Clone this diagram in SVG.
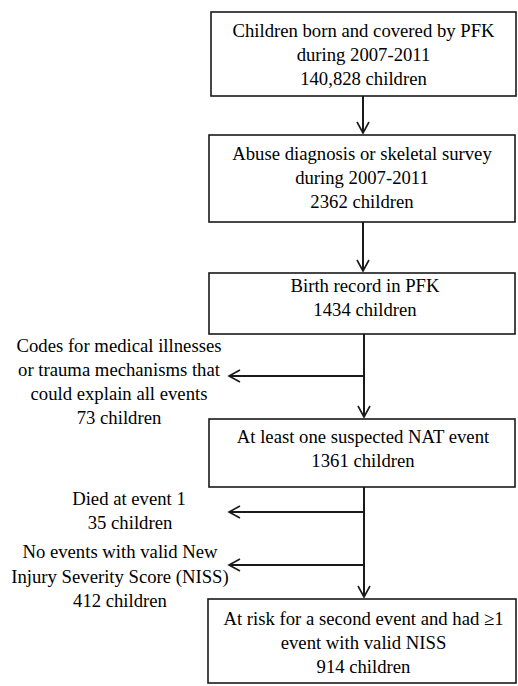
<svg xmlns="http://www.w3.org/2000/svg" width="518" height="686" viewBox="0 0 518 686">
<style>
.box{fill:#fff;stroke:#1a1a1a;stroke-width:1.6}
.ln{fill:none;stroke:#1a1a1a;stroke-width:2}
</style>
<defs>
<marker id="ah" markerUnits="userSpaceOnUse" markerWidth="14" markerHeight="16" viewBox="0 0 14 16" refX="12" refY="7" orient="auto">
<path d="M1,1 L12,7 L1,13" fill="none" stroke="#1a1a1a" stroke-width="1.6"/>
</marker>
</defs>
<rect width="518" height="686" fill="#fff"/>
<g id="connectors">
<line class="ln" x1="363" y1="96" x2="363" y2="133" marker-end="url(#ah)"/>
<line class="ln" x1="363" y1="222" x2="363" y2="271" marker-end="url(#ah)"/>
<line class="ln" x1="364" y1="334" x2="364" y2="417" marker-end="url(#ah)"/>
<line class="ln" x1="364" y1="376" x2="229" y2="376" marker-end="url(#ah)"/>
<line class="ln" x1="364" y1="487" x2="364" y2="597" marker-end="url(#ah)"/>
<line class="ln" x1="364" y1="512" x2="229" y2="512" marker-end="url(#ah)"/>
<line class="ln" x1="364" y1="565" x2="229" y2="565" marker-end="url(#ah)"/>
</g>
<g id="n1">
<rect class="box" x="211" y="12" width="305" height="84"/>
<text font-family="Liberation Serif" font-size="18.7" text-anchor="middle" x="363.5" y="37">Children born and covered by PFK</text>
<text font-family="Liberation Serif" font-size="18.7" text-anchor="middle" x="363.5" y="61">during 2007-2011</text>
<text font-family="Liberation Serif" font-size="18.7" text-anchor="middle" x="363.5" y="85">140,828 children</text>
</g>
<g id="n2">
<rect class="box" x="209" y="135" width="306" height="87"/>
<text font-family="Liberation Serif" font-size="18.7" text-anchor="middle" x="362" y="160">Abuse diagnosis or skeletal survey</text>
<text font-family="Liberation Serif" font-size="18.7" text-anchor="middle" x="362" y="184">during 2007-2011</text>
<text font-family="Liberation Serif" font-size="18.7" text-anchor="middle" x="362" y="208">2362 children</text>
</g>
<g id="n3">
<rect class="box" x="209" y="273" width="306" height="61"/>
<text font-family="Liberation Serif" font-size="18.7" text-anchor="middle" x="365" y="292">Birth record in PFK</text>
<text font-family="Liberation Serif" font-size="18.7" text-anchor="middle" x="365" y="316">1434 children</text>
</g>
<g id="n3x">
<text font-family="Liberation Serif" font-size="18.7" text-anchor="middle" x="119" y="352">Codes for medical illnesses</text>
<text font-family="Liberation Serif" font-size="18.7" text-anchor="middle" x="119" y="376">or trauma mechanisms that</text>
<text font-family="Liberation Serif" font-size="18.7" text-anchor="middle" x="119" y="400">could explain all events</text>
<text font-family="Liberation Serif" font-size="18.7" text-anchor="middle" x="119" y="424">73 children</text>
</g>
<g id="n4">
<rect class="box" x="209" y="419" width="306" height="68"/>
<text font-family="Liberation Serif" font-size="18.7" text-anchor="middle" x="363" y="443">At least one suspected NAT event</text>
<text font-family="Liberation Serif" font-size="18.7" text-anchor="middle" x="363" y="467">1361 children</text>
</g>
<g id="n4x">
<text font-family="Liberation Serif" font-size="18.7" text-anchor="middle" x="129" y="505">Died at event 1</text>
<text font-family="Liberation Serif" font-size="18.7" text-anchor="middle" x="130" y="529">35 children</text>
</g>
<g id="n4y">
<text font-family="Liberation Serif" font-size="18.7" text-anchor="middle" x="120" y="558">No events with valid New</text>
<text font-family="Liberation Serif" font-size="18.7" text-anchor="middle" x="120" y="583">Injury Severity Score (NISS)</text>
<text font-family="Liberation Serif" font-size="18.7" text-anchor="middle" x="120" y="607">412 children</text>
</g>
<g id="n5">
<rect class="box" x="208" y="599" width="308" height="84"/>
<text font-family="Liberation Serif" font-size="18.7" text-anchor="middle" x="363.5" y="625">At risk for a second event and had ≥1</text>
<text font-family="Liberation Serif" font-size="18.7" text-anchor="middle" x="363.5" y="649">event with valid NISS</text>
<text font-family="Liberation Serif" font-size="18.7" text-anchor="middle" x="363.5" y="673">914 children</text>
</g>
</svg>
